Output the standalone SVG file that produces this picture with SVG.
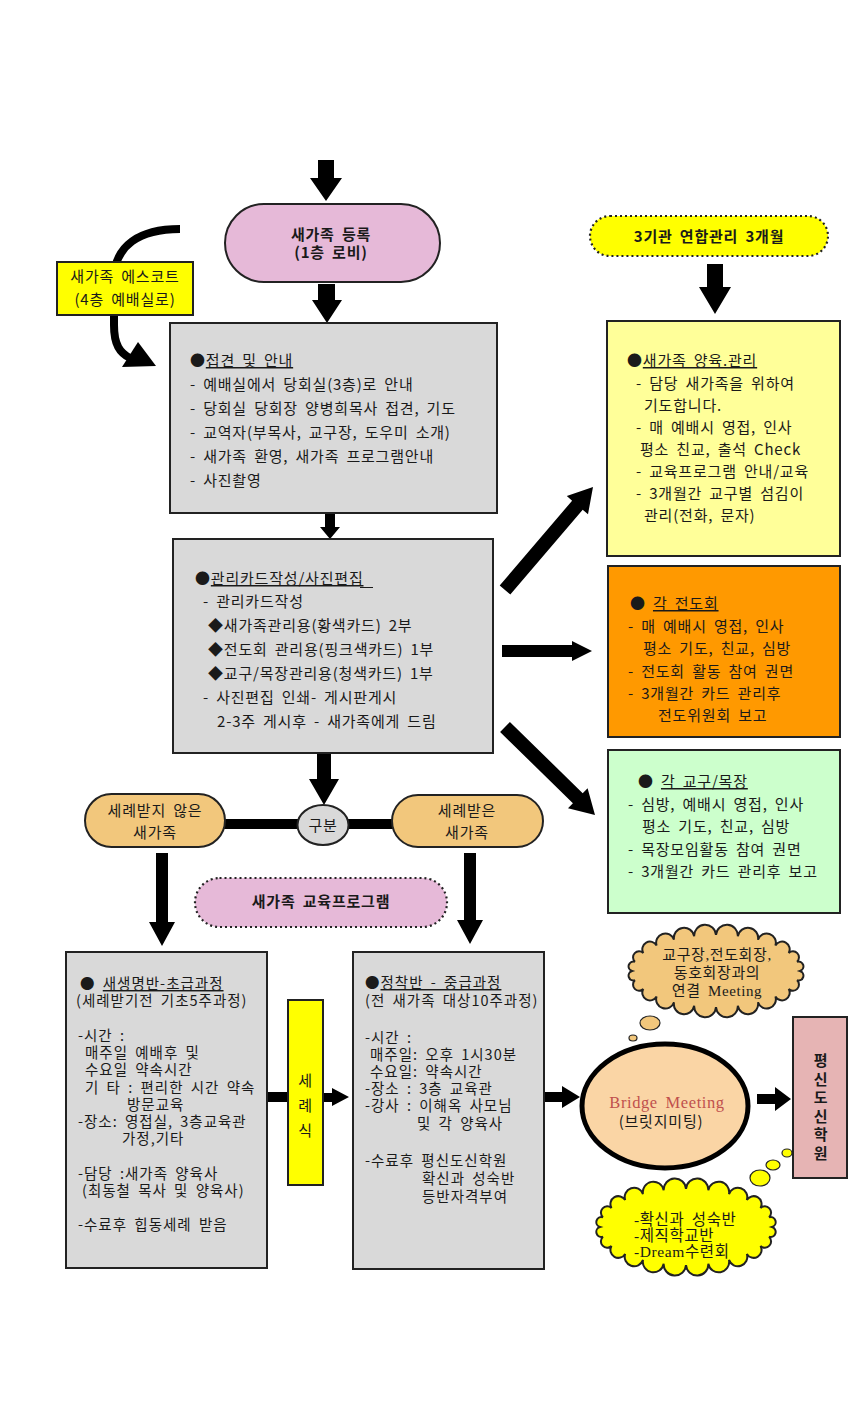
<svg xmlns="http://www.w3.org/2000/svg" width="850" height="1403" viewBox="0 0 850 1403">
<style>
.t{font-family:"Noto Sans CJK KR","Noto Sans",sans-serif;font-size:15px;fill:#1a1a1a;word-spacing:3px;letter-spacing:0.8px}
.m{font-family:"Noto Sans CJK KR","Noto Sans",sans-serif;font-size:14.5px;fill:#1a1a1a;word-spacing:3px;letter-spacing:1px}
.s{font-family:"Liberation Serif","Noto Sans CJK KR",serif;font-size:15px;fill:#1a1a1a;word-spacing:3px;letter-spacing:0.6px}
.b{font-weight:bold}
.c{text-anchor:middle}
.u{text-decoration:underline}
.box{stroke:#222;stroke-width:2}
.gray{fill:#d9d9d9}
.ar{fill:#000}
.dot{stroke:#222;stroke-width:2.2;stroke-dasharray:2 3}
</style>
<rect width="850" height="1403" fill="#fff"/>

<g id="connectors">
  <polygon class="ar" points="318,160 334,160 334,178 342,178 326,201 310,178 318,178"/>
  <polygon class="ar" points="318,284 335,284 335,300 342,300 327,323 312,300 318,300"/>
  <polygon class="ar" points="325,514 335,514 335,527 340,527 330,539 320,527 325,527"/>
  <polygon class="ar" points="317,753 331,753 331,779 339,779 324,805 309,779 317,779"/>
  <polygon class="ar" points="707,264 723,264 723,287 731,287 715,314 699,287 707,287"/>
  <polygon class="ar" points="499.7,585.5 572.1,500.7 566.8,496.1 593,487 588,514.3 582.7,509.7 510.3,594.5"/>
  <polygon class="ar" points="502,645 572,645 572,641 592,651 572,661 572,657 502,657"/>
  <polygon class="ar" points="509.9,722 582.7,793.2 587.6,788.2 595,815 568,808.2 572.9,803.2 500.1,732"/>
  <path d="M180,229 C140,229 114,245 114,280 L114,325 C114,345 120,353 130,358" fill="none" stroke="#000" stroke-width="8"/>
  <polygon class="ar" points="122,367 138,342 156,366"/>
  <rect class="ar" x="224" y="819" width="75" height="10"/>
  <rect class="ar" x="347" y="819" width="46" height="10"/>
  <polygon class="ar" points="156,853 168,853 168,922 175,922 162,946 149,922 156,922"/>
  <polygon class="ar" points="464,853 476,853 476,920 483,920 470,944 457,920 464,920"/>
  <rect class="ar" x="266" y="1092" width="23" height="10"/>
  <polygon class="ar" points="322,1093 332,1093 332,1088 349,1097 332,1106 332,1102 322,1102"/>
  <polygon class="ar" points="544,1092 562,1092 562,1086 580,1097 562,1108 562,1102 544,1102"/>
  <polygon class="ar" points="757,1094 775,1094 775,1087 791,1099 775,1111 775,1104 757,1104"/>
</g>

<g id="register">
  <rect class="box" x="225" y="204" width="215" height="78" rx="39" fill="#e6b9d8"/>
  <text class="t b c" x="331" y="240">새가족 등록</text>
  <text class="t b c" x="331" y="258">(1층 로비)</text>
</g>

<g id="escort">
  <rect class="box" x="57" y="262" width="136" height="53" fill="#ffff00"/>
  <text class="t c" x="125" y="282">새가족 에스코트</text>
  <text class="t c" x="125" y="305">(4층 예배실로)</text>
</g>

<g id="greeting">
  <rect class="box gray" x="170" y="323" width="327" height="190"/>
  <text class="t" x="190" y="366">●<tspan class="u">접견 및 안내</tspan></text>
  <text class="t" x="190" y="390">- 예배실에서 당회실(3층)로 안내</text>
  <text class="t" x="190" y="414">- 당회실 당회장 양병희목사 접견, 기도</text>
  <text class="t" x="190" y="438">- 교역자(부목사, 교구장, 도우미 소개)</text>
  <text class="t" x="190" y="462">- 새가족 환영, 새가족 프로그램안내</text>
  <text class="t" x="190" y="486">- 사진촬영</text>
</g>

<g id="card">
  <rect class="box gray" x="173" y="539" width="320" height="214"/>
  <text class="t" x="195" y="584">●<tspan class="u">관리카드작성/사진편집</tspan></text>
  <line x1="360" y1="587.5" x2="373" y2="587.5" stroke="#1a1a1a" stroke-width="1"/>
  <text class="t" x="203" y="607">- 관리카드작성</text>
  <text class="t" x="208" y="631">◆새가족관리용(황색카드) 2부</text>
  <text class="t" x="208" y="655">◆전도회 관리용(핑크색카드) 1부</text>
  <text class="t" x="208" y="679">◆교구/목장관리용(청색카드) 1부</text>
  <text class="t" x="203" y="703">- 사진편집 인쇄- 게시판게시</text>
  <text class="t" x="217" y="727">2-3주 게시후 - 새가족에게 드림</text>
</g>

<g id="joint">
  <rect class="dot" x="590" y="216" width="238" height="40" rx="20" fill="#ffff00"/>
  <text class="t b c" x="709" y="242">3기관 연합관리 3개월</text>
</g>

<g id="nurture">
  <rect class="box" x="607" y="321" width="233" height="235" fill="#ffff99"/>
  <text class="t" x="627" y="366">●<tspan class="u">새가족 양육.관리</tspan></text>
  <text class="t" x="636" y="389">- 담당 새가족을 위하여</text>
  <text class="t" x="644" y="411">기도합니다.</text>
  <text class="t" x="636" y="433">- 매 예배시 영접, 인사</text>
  <text class="t" x="640" y="455">평소 친교, 출석 Check</text>
  <text class="t" x="636" y="477">- 교육프로그램 안내/교육</text>
  <text class="t" x="636" y="499">- 3개월간 교구별 섬김이</text>
  <text class="t" x="644" y="521">관리(전화, 문자)</text>
</g>

<g id="mission">
  <rect class="box" x="608" y="566" width="232" height="171" fill="#ff9900"/>
  <text class="t" x="630" y="609">● <tspan class="u">각 전도회</tspan></text>
  <text class="t" x="628" y="632">- 매 예배시 영접, 인사</text>
  <text class="t" x="643" y="654">평소 기도, 친교, 심방</text>
  <text class="t" x="628" y="677">- 전도회 활동 참여 권면</text>
  <text class="t" x="628" y="699">- 3개월간 카드 관리후</text>
  <text class="t" x="658" y="721">전도위원회 보고</text>
</g>

<g id="parish">
  <rect class="box" x="608" y="750" width="232" height="163" fill="#ccffcc"/>
  <text class="t" x="638" y="787">●  <tspan class="u">각 교구/목장</tspan></text>
  <text class="t" x="628" y="810">- 심방, 예배시 영접, 인사</text>
  <text class="t" x="642" y="832">평소 기도, 친교, 심방</text>
  <text class="t" x="628" y="855">- 목장모임활동 참여 권면</text>
  <text class="t" x="628" y="877">- 3개월간 카드 관리후 보고</text>
</g>

<g id="unbaptized">
  <rect class="box" x="85" y="794" width="140" height="53" rx="26.5" fill="#f2c77c"/>
  <text class="t c" x="155" y="816">세례받지 않은</text>
  <text class="t c" x="155" y="838">새가족</text>
</g>

<g id="divide">
  <ellipse class="box" cx="323" cy="825" rx="25.5" ry="20" fill="#d9d9d9"/>
  <text class="t c" x="323" y="831">구분</text>
</g>

<g id="baptized">
  <rect class="box" x="392" y="795" width="151" height="52" rx="26" fill="#f2c77c"/>
  <text class="t c" x="467" y="816">세례받은</text>
  <text class="t c" x="467" y="838">새가족</text>
</g>

<g id="eduprogram">
  <rect class="dot" x="195" y="878" width="252" height="49" rx="24.5" fill="#e6b9d8"/>
  <text class="t b c" x="321" y="907">새가족 교육프로그램</text>
</g>

<g id="newlife">
  <rect class="box gray" x="66" y="952" width="201" height="316"/>
  <text class="m" x="80" y="989">● <tspan class="u">새생명반-초급과정</tspan></text>
  <text class="m" x="76" y="1006">(세례받기전 기초5주과정)</text>
  <text class="m" x="78" y="1041">-시간 :</text>
  <text class="m" x="85" y="1058">매주일 예배후 및</text>
  <text class="m" x="85" y="1075">수요일 약속시간</text>
  <text class="m" x="85" y="1093">기 타 : 편리한 시간 약속</text>
  <text class="m" x="127" y="1110">방문교육</text>
  <text class="m" x="78" y="1127">-장소: 영접실, 3층교육관</text>
  <text class="m" x="122" y="1144">가정,기타</text>
  <text class="m" x="78" y="1179">-담당 :새가족 양육사</text>
  <text class="m" x="82" y="1196">(최동철 목사 및 양육사)</text>
  <text class="m" x="78" y="1230">-수료후 힙동세례 받음</text>
</g>

<g id="baptism">
  <rect class="box" x="288" y="1000" width="35" height="185" fill="#ffff00"/>
  <text class="t c" x="305.5" y="1086">세</text>
  <text class="t c" x="305.5" y="1111">례</text>
  <text class="t c" x="305.5" y="1136">식</text>
</g>

<g id="settle">
  <rect class="box gray" x="353" y="952" width="191" height="317"/>
  <text class="m" x="365" y="988">●<tspan class="u">정착반 - 중급과정</tspan></text>
  <text class="m" x="365" y="1006">(전 새가족 대상10주과정)</text>
  <text class="m" x="365" y="1043">-시간 :</text>
  <text class="m" x="370" y="1060">매주일: 오후 1시30분</text>
  <text class="m" x="370" y="1077">수요일: 약속시간</text>
  <text class="m" x="365" y="1094">-장소 : 3층 교육관</text>
  <text class="m" x="365" y="1111">-강사 : 이해옥 사모님</text>
  <text class="m" x="417" y="1129">및 각 양육사</text>
  <text class="m" x="365" y="1166">-수료후 평신도신학원</text>
  <text class="m" x="422" y="1184">확신과 성숙반</text>
  <text class="m" x="422" y="1202">등반자격부여</text>
</g>

<g id="bridge">
  <ellipse cx="665" cy="1106" rx="83" ry="62" fill="#fad5a5" stroke="#000" stroke-width="5"/>
  <text class="s c" x="667" y="1108" style="fill:#c0504d;font-size:16.5px">Bridge Meeting</text>
  <text class="t c" x="661" y="1127">(브릿지미팅)</text>
</g>

<g id="leaders-cloud">
  <path class="box" fill="#f2c77c" stroke-width="1.5" d="M800,971 A1,1 0 0 1 797.1,980.3 A1,1 0 0 1 788.7,989 A1,1 0 0 1 775.4,996.5 A1,1 0 0 1 758,1002.2 A1,1 0 0 1 737.8,1005.8 A1,1 0 0 1 716,1007 A1,1 0 0 1 694.2,1005.8 A1,1 0 0 1 674,1002.2 A1,1 0 0 1 656.6,996.5 A1,1 0 0 1 643.3,989 A1,1 0 0 1 634.9,980.3 A1,1 0 0 1 632,971 A1,1 0 0 1 634.9,961.7 A1,1 0 0 1 643.3,953 A1,1 0 0 1 656.6,945.5 A1,1 0 0 1 674,939.8 A1,1 0 0 1 694.2,936.2 A1,1 0 0 1 716,935 A1,1 0 0 1 737.8,936.2 A1,1 0 0 1 758,939.8 A1,1 0 0 1 775.4,945.5 A1,1 0 0 1 788.7,953 A1,1 0 0 1 797.1,961.7 A1,1 0 0 1 800,971 Z"/>
  <ellipse cx="650" cy="1023" rx="10" ry="7" fill="#f2c77c" stroke="#222" stroke-width="1.2"/>
  <ellipse cx="633" cy="1038" rx="4" ry="3" fill="#f2c77c" stroke="#222" stroke-width="1.2"/>
  <text class="s c" x="717" y="960">교구장,전도회장,</text>
  <text class="s c" x="717" y="978">동호회장과의</text>
  <text class="s c" x="717" y="996">연결 Meeting</text>
</g>

<g id="academy">
  <rect class="box" x="793" y="1017" width="54" height="161" fill="#e6b4b4"/>
  <text class="t b c" x="821" y="1066">평</text>
  <text class="t b c" x="821" y="1085">신</text>
  <text class="t b c" x="821" y="1103">도</text>
  <text class="t b c" x="821" y="1122">신</text>
  <text class="t b c" x="821" y="1140">학</text>
  <text class="t b c" x="821" y="1159">원</text>
</g>

<g id="courses-cloud">
  <ellipse cx="787" cy="1153" rx="5" ry="4" fill="#ffff00" stroke="#222" stroke-width="1.2"/>
  <ellipse cx="773" cy="1165" rx="7" ry="5" fill="#ffff00" stroke="#222" stroke-width="1.2"/>
  <ellipse cx="760" cy="1178" rx="10" ry="8" fill="#ffff00" stroke="#222" stroke-width="1.2"/>
  <path class="box" fill="#ffff00" stroke-width="1.5" d="M772,1227 A1,1 0 0 1 769.1,1236.8 A1,1 0 0 1 760.5,1246 A1,1 0 0 1 746.8,1253.9 A1,1 0 0 1 729,1259.9 A1,1 0 0 1 708.3,1263.7 A1,1 0 0 1 686,1265 A1,1 0 0 1 663.7,1263.7 A1,1 0 0 1 643,1259.9 A1,1 0 0 1 625.2,1253.9 A1,1 0 0 1 611.5,1246 A1,1 0 0 1 602.9,1236.8 A1,1 0 0 1 600,1227 A1,1 0 0 1 602.9,1217.2 A1,1 0 0 1 611.5,1208 A1,1 0 0 1 625.2,1200.1 A1,1 0 0 1 643,1194.1 A1,1 0 0 1 663.7,1190.3 A1,1 0 0 1 686,1189 A1,1 0 0 1 708.3,1190.3 A1,1 0 0 1 729,1194.1 A1,1 0 0 1 746.8,1200.1 A1,1 0 0 1 760.5,1208 A1,1 0 0 1 769.1,1217.2 A1,1 0 0 1 772,1227 Z"/>
  <text class="s" x="634" y="1225" style="font-size:15.5px">-확신과 성숙반</text>
  <text class="s" x="634" y="1241" style="font-size:15.5px">-제직학교반</text>
  <text class="s" x="634" y="1257" style="font-size:15.5px">-Dream수련회</text>
</g>
</svg>
